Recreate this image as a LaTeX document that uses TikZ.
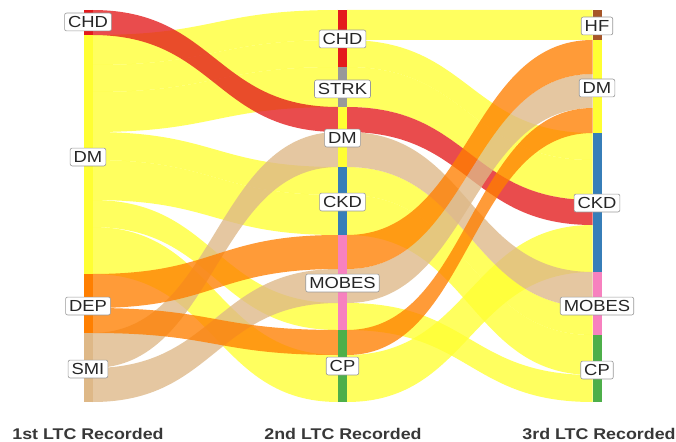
\documentclass[tikz,border=0pt]{standalone}
\usepackage{fontspec}
\setmainfont{Liberation Sans}
\newfontfamily\labfont[FakeStretch=1.15]{Liberation Sans}
\newfontfamily\titfont[FakeStretch=1.15]{Liberation Sans}
\definecolor{cRed}{HTML}{E41A1C}
\definecolor{cYel}{HTML}{FFFF33}
\definecolor{cOra}{HTML}{FF7F00}
\definecolor{cTan}{HTML}{DEB887}
\definecolor{cGry}{HTML}{999999}
\definecolor{cBlu}{HTML}{377EB8}
\definecolor{cPnk}{HTML}{F781BF}
\definecolor{cGrn}{HTML}{4DAF4A}
\definecolor{cBrn}{HTML}{A65628}
\newcommand\band[7]{%
  \pgfmathsetmacro\bxm{(#1+#4)/2}%
  \fill[flow=#7] (#1,#2) .. controls (\bxm,#2) and (\bxm,#5) .. (#4,#5) -- (#4,#6) .. controls (\bxm,#6) and (\bxm,#3) .. (#1,#3) -- cycle;}
% alluvium: axis1 top/bot, axis2 top/bot, axis3 top/bot, colour
\newcommand\alluv[7]{%
  \band{92.5}{#1}{#2}{338}{#3}{#4}{#7}%
  \band{347}{#3}{#4}{592.5}{#5}{#6}{#7}}
\begin{document}
\begin{tikzpicture}[x=1pt,y=-1pt,
  flow/.style={fill=#1, fill opacity=0.78, draw=none},
  barseg/.style={fill=#1, draw=none},
  lab/.style={draw=black!40, fill=white, rounded corners=2pt, line width=0.6pt,
    inner xsep=3.5pt, inner ysep=3.2pt, text height=11.5pt, text depth=0pt,
    font=\labfont\fontsize{16}{16}\selectfont, text=black!85},
  axt/.style={font=\titfont\bfseries\fontsize{15.5}{15.5}\selectfont, text=black!78,
    anchor=base, inner sep=0pt}]
\useasboundingbox (0,0) rectangle (676,441);
\fill[white] (0,0) rectangle (676,441);
% yellow alluvia (DM at 1st)
\alluv{35}{65}{10}{40}{10}{40}{cYel}
\alluv{65}{92}{40}{67}{133}{160}{cYel}
\alluv{92}{132}{67}{107}{160}{200}{cYel}
\alluv{132}{160}{167}{195}{307}{335}{cYel}
\alluv{160}{200}{195}{235}{335}{375}{cYel}
\alluv{200}{227}{303}{330}{375}{402}{cYel}
\alluv{227}{274}{355}{402}{225}{272}{cYel}
% red (CHD at 1st)
\alluv{10}{35}{107}{132}{200}{225}{cRed}
% tan (SMI at 1st)
\alluv{333}{368}{132}{167}{272}{307}{cTan}
\alluv{368}{402}{269}{303}{74}{108}{cTan}
% orange (DEP at 1st)
\alluv{274}{308}{235}{269}{40}{74}{cOra}
\alluv{308}{333}{330}{355}{108}{133}{cOra}
% axis 1 strata
\fill[barseg=cRed] (83.5,10) rectangle (92.5,35);
\fill[barseg=cYel] (83.5,35) rectangle (92.5,274);
\fill[barseg=cOra] (83.5,274) rectangle (92.5,333);
\fill[barseg=cTan] (83.5,333) rectangle (92.5,402);
% axis 2 strata
\fill[barseg=cRed] (338,10) rectangle (347,67);
\fill[barseg=cGry] (338,67) rectangle (347,107);
\fill[barseg=cYel] (338,107) rectangle (347,167);
\fill[barseg=cBlu] (338,167) rectangle (347,235);
\fill[barseg=cPnk] (338,235) rectangle (347,330);
\fill[barseg=cGrn] (338,330) rectangle (347,402);
% axis 3 strata
\fill[barseg=cBrn] (592.5,10) rectangle (601.5,40);
\fill[barseg=cYel] (592.5,40) rectangle (601.5,133);
\fill[barseg=cBlu] (592.5,133) rectangle (601.5,272);
\fill[barseg=cPnk] (592.5,272) rectangle (601.5,335);
\fill[barseg=cGrn] (592.5,335) rectangle (601.5,402);
% labels axis 1
\node[lab] (a1chd) at (88,22) {CHD};
\node[lab] (a1dm) at (88,157) {DM};
\node[lab] (a1dep) at (88,306) {DEP};
\node[lab] (a1smi) at (88,369) {SMI};
% labels axis 2
\node[lab] (a2chd) at (342.5,39) {CHD};
\node[lab] (a2strk) at (342.5,89) {STRK};
\node[lab] (a2dm) at (342.5,138) {DM};
\node[lab] (a2ckd) at (342.5,202) {CKD};
\node[lab] (a2mobes) at (342.5,283) {MOBES};
\node[lab] (a2cp) at (342.5,366) {CP};
% labels axis 3
\node[lab] (a3hf) at (597,26) {HF};
\node[lab] (a3dm) at (597,88) {DM};
\node[lab] (a3ckd) at (597,203) {CKD};
\node[lab] (a3mobes) at (597,306) {MOBES};
\node[lab] (a3cp) at (597,370) {CP};
% axis titles
\node[axt] (t1) at (88,439) {1st LTC Recorded};
\node[axt] (t2) at (343,439) {2nd LTC Recorded};
\node[axt] (t3) at (599,439) {3rd LTC Recorded};
\end{tikzpicture}
\end{document}
